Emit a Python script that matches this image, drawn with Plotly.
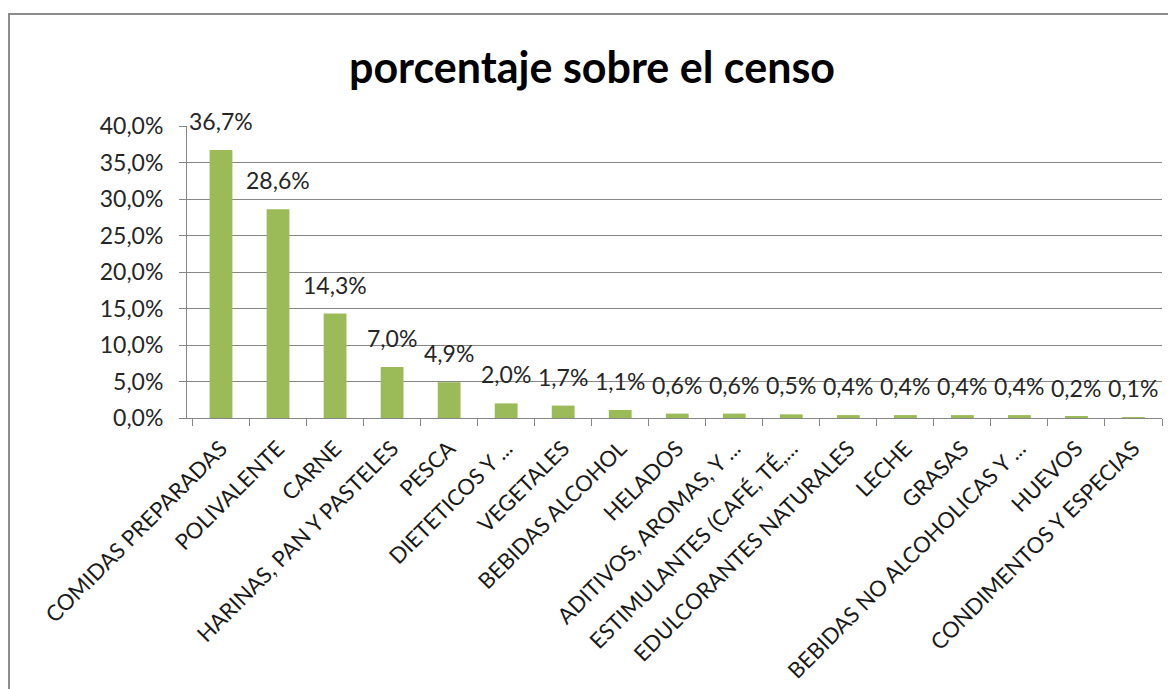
import plotly.graph_objects as go

categories = [
    "COMIDAS PREPARADAS", "POLIVALENTE", "CARNE", "HARINAS, PAN Y PASTELES",
    "PESCA", "DIETETICOS Y ...", "VEGETALES", "BEBIDAS ALCOHOL", "HELADOS",
    "ADITIVOS, AROMAS, Y ...", "ESTIMULANTES (CAFÉ, TÉ,...", "EDULCORANTES NATURALES",
    "LECHE", "GRASAS", "BEBIDAS NO ALCOHOLICAS Y ...", "HUEVOS", "CONDIMENTOS Y ESPECIAS",
]
values = [36.7, 28.6, 14.3, 7.0, 4.9, 2.0, 1.7, 1.1, 0.6, 0.6, 0.5, 0.4, 0.4, 0.4, 0.4, 0.2, 0.1]
tick_vals = [0, 5, 10, 15, 20, 25, 30, 35, 40]
tick_text = ["0,0%", "5,0%", "10,0%", "15,0%", "20,0%", "25,0%", "30,0%", "35,0%", "40,0%"]
title_text = "porcentaje sobre el censo"

# page body has an 8px margin; figure geometry is expressed in figure pixels
OFF = 8
W, H = 1176 - OFF, 689 - OFF
L = 187 - OFF
R = W - (1162 - OFF)
T = 126 - OFF
B = H - (418 - OFF)

fig = go.Figure()
fig.add_trace(go.Bar(
    x=categories, y=values,
    marker=dict(color="#9BBB59", line=dict(width=0)),
    hoverinfo="x+y",
))

for c, v in zip(categories, values):
    fig.add_annotation(
        x=c, y=v, text=f"{v:.1f}%".replace(".", ","),
        showarrow=False, yanchor="bottom", yshift=13,
        font=dict(family="Lato", size=23, color="#262626"),
    )

pw = W - L - R
ph = H - T - B
fig.add_shape(
    type="rect", xref="paper", yref="paper",
    x0=(1 - L) / pw, x1=(W + 30 - L) / pw,
    y0=-(H + 30 - (T + ph)) / ph, y1=(T + ph - 6) / ph,
    line=dict(color="#8C8C8C", width=2), fillcolor="rgba(0,0,0,0)", layer="below",
)

fig.update_layout(
    width=W, height=H,
    margin=dict(l=L, r=R, t=T, b=B),
    paper_bgcolor="white", plot_bgcolor="white",
    bargap=0.6,
    showlegend=False,
    title=dict(text="<b>" + title_text + "</b>", x=(592 - OFF) / W, xanchor="center",
               y=1 - (68 - OFF) / H, yanchor="middle",
               font=dict(family="Lato", size=43, color="black")),
    xaxis=dict(
        type="category", tickangle=-45, tickson="boundaries",
        ticks="outside", ticklen=7, tickcolor="#868686",
        showline=True, linecolor="#868686", linewidth=1,
        showgrid=False, automargin=False, ticklabelstandoff=8,
        tickfont=dict(family="Lato", size=22, color="#1a1a1a"),
    ),
    yaxis=dict(
        range=[0, 40], tickvals=tick_vals, ticktext=tick_text,
        ticks="outside", ticklen=7, tickcolor="#868686",
        showline=True, linecolor="#868686", linewidth=1,
        showgrid=True, gridcolor="#868686", gridwidth=1,
        zeroline=False, ticklabelstandoff=11, automargin=False,
        tickfont=dict(family="Lato", size=23, color="#262626"),
    ),
)

fig.write_html("out.html")
